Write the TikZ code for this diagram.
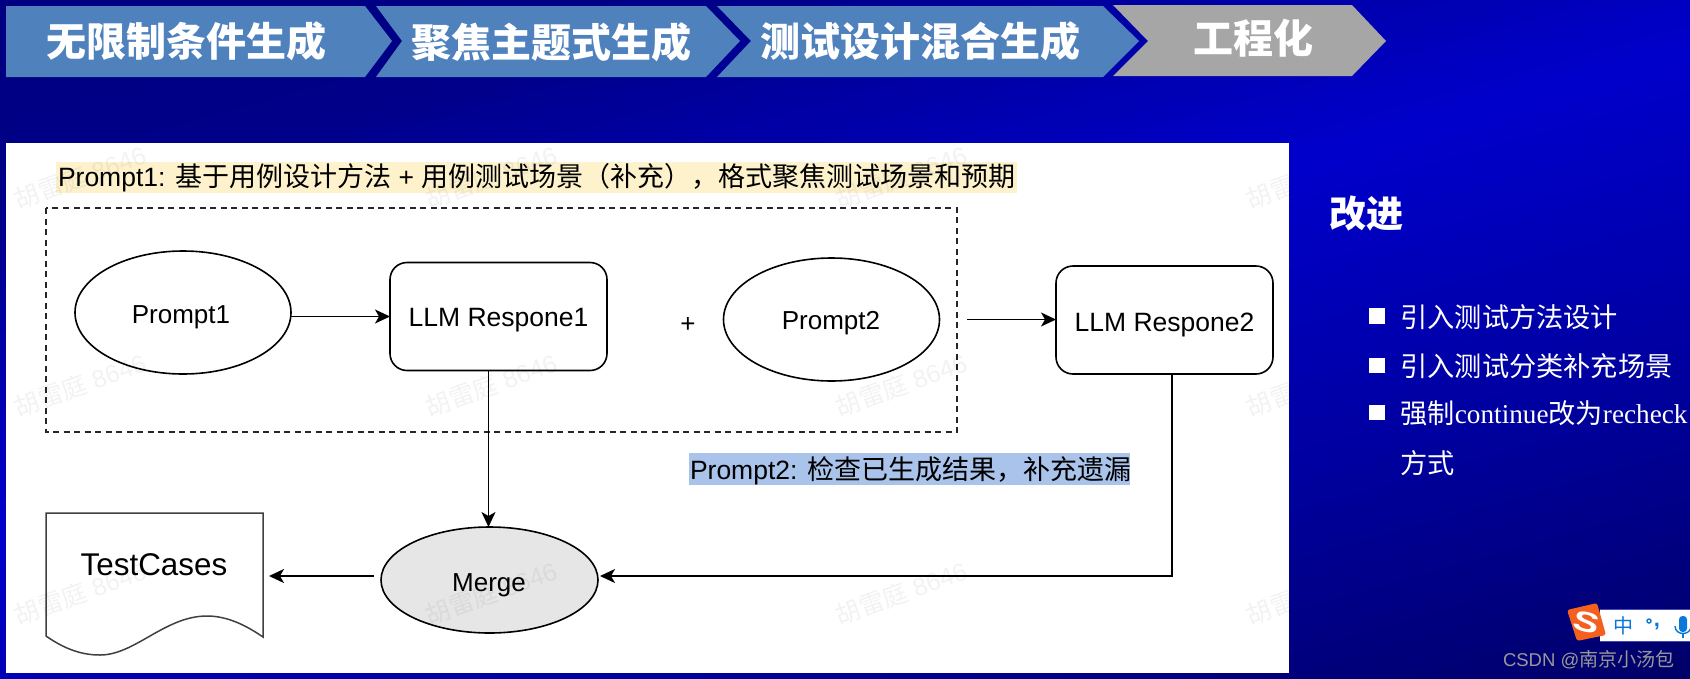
\documentclass[tikz,border=0pt]{standalone}
\usepackage{fontspec}
\setmainfont{Liberation Sans}
\newfontfamily\cjk{Noto Sans CJK SC}
\newfontfamily\serifl{Liberation Serif}
\usetikzlibrary{shapes.geometric,arrows.meta}
\newcommand\fsz[1]{\fontsize{#1}{#1}\selectfont}
\newcommand\hlcjk[1]{{\cjk\fsz{27}#1}}
\definecolor{chevblue}{HTML}{4F81BD}
\definecolor{chevgray}{HTML}{A6A6A6}
\definecolor{hlyellow}{HTML}{FDF2CC}
\definecolor{hlblue}{HTML}{A9C3EA}
\definecolor{mergefill}{HTML}{E6E6E6}
\definecolor{sogou}{HTML}{F4601E}
\definecolor{imeblue}{HTML}{0A78D8}
\tikzset{
  plain/.style={inner sep=0pt,outer sep=0pt},
  chev/.style={draw=none},
  chevtext/.style={plain,text=white,font=\cjk\bfseries\fsz{40}},
  oval/.style={plain,draw=black,line width=1.6pt,ellipse,minimum width=216pt,minimum height=123pt,font=\fsz{26}},
  rbox/.style={plain,draw=black,line width=1.6pt,rounded corners=17pt,minimum width=217pt,minimum height=108pt,font=\fsz{26.5},text height=19.5pt,text depth=0pt},
  arr/.style={draw=black,line width=1.6pt,-{Stealth[length=15pt,width=14pt,inset=4pt]}},
  hltext/.style={plain,anchor=base west,text=black,font=\fsz{26.5}},
  bodytext/.style={plain,anchor=base west,text=white,font=\cjk\fsz{27.2}},
  bulletsq/.style={plain,fill=white,minimum size=15.5pt},
  wmark/.style={plain,rotate=20,text=black,opacity=.05,font=\fsz{25}},
}
\begin{document}
\begin{tikzpicture}[x=1pt,y=-1pt]
\useasboundingbox (0,0) rectangle (1690,678);
% background
\begin{scope}
\clip (0,0) rectangle (1690,678);
\fill[blue!50!black] (0,0) rectangle (1690,678);
\foreach \t in {0,8,...,1120}{
  \pgfmathtruncatemacro\bv{\t<200?128+\t/200*10:(\t<500?138+(\t-200)/300*66:(\t<800?204-(\t-500)/300*44:max(100,160-(\t-800)/307*56)))}
  \definecolor{bgc}{RGB}{0,0,\bv}
  \pgfmathsetmacro\ya{(\t+2.7)/.96}
  \pgfmathsetmacro\yb{(\t-459)/.96}
  \fill[bgc] (-10,\ya) -- (1700,\yb) -- (1700,1200) -- (-10,1200) -- cycle;
}
\end{scope}
% chevrons
\fill[chevblue,chev] (6,6) -- (365,6) -- (392,41) -- (365,77) -- (6,77) -- cycle;
\fill[chevblue,chev] (376,6) -- (706,6) -- (740,41) -- (706,77) -- (376,77) -- (402,41) -- cycle;
\fill[chevblue,chev] (717,6) -- (1103,6) -- (1139,41) -- (1103,77) -- (717,77) -- (751,41) -- cycle;
\fill[chevgray,chev] (1113,5) -- (1352,5) -- (1386,41) -- (1352,76) -- (1113,76) -- (1148,41) -- cycle;
\node[chevtext] (c1) at (186,41) {无限制条件生成};
\node[chevtext] (c2) at (551,42) {聚焦主题式生成};
\node[chevtext] (c3) at (920,41) {测试设计混合生成};
\node[chevtext] (c4) at (1253,38) {工程化};
% panel
\fill[white] (6,143) rectangle (1289,673);
\fill[hlyellow] (56,162) rectangle (1017,193);
\fill[hlblue] (689,453) rectangle (1130,485);
\node[hltext] (t1) at (58,186) {Prompt1: \hlcjk{基于用例设计方法} + \hlcjk{用例测试场景（补充），格式聚焦测试场景和预期}};
\node[hltext] (t2) at (690,479) {Prompt2: \hlcjk{检查已生成结果，补充遗漏}};
% dashed group
\draw[black!85,line width=1.5pt,dash pattern=on 6pt off 4.5pt] (46,208) rectangle (957,432);
% nodes
\node[oval] (p1) at (183,312.5) {};
\node[plain,font=\fsz{26}] (p1t) at (181,317) {Prompt1};
\node[rbox] (r1) at (498.5,316.5) {LLM Respone1};
\node[plain,font=\fsz{26}] (plus) at (688,325) {+};
\node[oval] (p2) at (831.5,319.5) {};
\node[plain,font=\fsz{26}] (p2t) at (831,323) {Prompt2};
\node[rbox,text height=22.6pt] (r2) at (1164.5,320) {LLM Respone2};
\node[oval,fill=mergefill,minimum width=217pt,minimum height=106pt] (merge) at (489.5,580) {};
\node[plain,font=\fsz{26}] (mt) at (489,585) {Merge};
\draw[black!75,line width=1.5pt,fill=white] (263,513) -- (46,513) -- (46,636) .. controls (66,650) and (83,655) .. (100,655) .. controls (135,655) and (165,616) .. (207,616) .. controls (228,616) and (247,626) .. (263,637) -- cycle;
\node[plain,font=\fsz{31.4}] (doc) at (154,565) {TestCases};
% connectors
\coordinate (gapstart) at (967,319.5);
\coordinate (r1out) at (488.5,371);
\coordinate (r2out) at (1172,374);
\coordinate (mergeE) at (600,576);
\coordinate (docE) at (269,576);
\coordinate (mergeW) at (374,576);
\draw[arr] (p1.east |- r1.west) -- (r1.west);
\draw[arr] (gapstart) -- (gapstart -| r2.west);
\draw[arr] (r1out) -- (r1out |- merge.north);
\draw[arr] (r2out) |- (mergeE);
\draw[arr] (mergeW) -- (docE);
% right text
\node[plain,text=white,font=\cjk\bfseries\fsz{37}] (gj) at (1366,214) {改进};
\node[bulletsq] (b1) at (1377,316) {};
\node[bulletsq] (b2) at (1377,365.5) {};
\node[bulletsq] (b3) at (1377,412.5) {};
\node[bodytext] (l1) at (1400.5,327) {引入测试方法设计};
\node[bodytext] (l2) at (1400.5,376) {引入测试分类补充场景};
\node[bodytext] (l3) at (1400.5,423) {强制{\serifl continue}改为{\serifl recheck}};
\node[bodytext] (l4) at (1400.5,473) {方式};
% IME bar
\begin{scope}
\clip (0,0) rectangle (1690,678);
\fill[white] (1600,609) rectangle (1692,641);
\draw[blue!45!gray,line width=1pt] (1600,609) -- (1692,609) (1600,641) -- (1692,641);
\fill[sogou,rounded corners=2.5pt] (1567,610) -- (1597,603) -- (1606,635) -- (1577,641) -- cycle;
\node[plain,text=white,font=\bfseries\fsz{28},rotate=-14,xscale=1.4] (sg) at (1586.5,622) {S};
\node[plain,text=imeblue,font=\cjk\fsz{20}] (zh) at (1623,626) {中};
\draw[imeblue,line width=1.4pt] (1649,621) circle (2pt);
\node[plain,text=imeblue,font=\bfseries\fsz{22}] (cm) at (1657,627) {,};
\fill[imeblue,rounded corners=3.5pt] (1679,616) rectangle (1687,632);
\draw[imeblue,line width=1.4pt] (1675,626) .. controls (1675,636) and (1691,636) .. (1691,626);
\draw[imeblue,line width=1.4pt] (1683,634) -- (1683,638);
\end{scope}
\node[plain,anchor=base west,text=black!40!white,font=\fsz{18.5}] (csdn) at (1503,666) {CSDN @{\cjk\fsz{19}南京小汤包}};
% watermarks
\begin{scope}
\clip (6,143) rectangle (1289,673);
\foreach \i/\x in {1/80,2/491,3/901,4/1312}{
  \foreach \j/\y in {1/177,2/385,3/593}{
    \node[wmark] (wm\i\j) at (\x,\y) {{\cjk 胡雷庭} 8646};
  }
}
\end{scope}
\end{tikzpicture}
\end{document}
